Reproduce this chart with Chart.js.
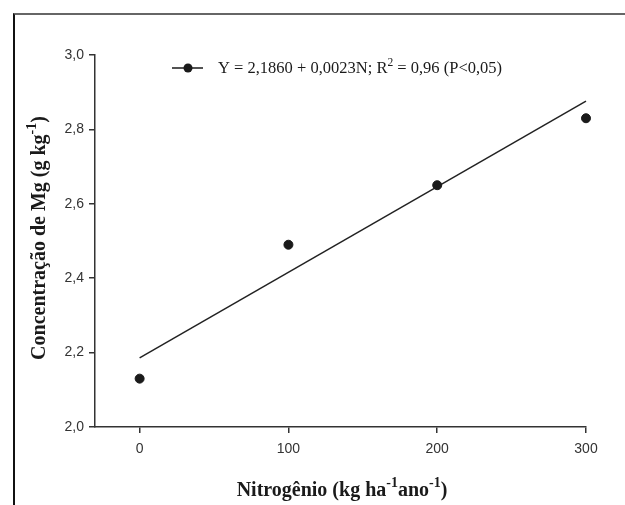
<!DOCTYPE html>
<html>
<head>
<meta charset="utf-8">
<script src="https://cdn.jsdelivr.net/npm/chart.js@4.4.0/dist/chart.umd.min.js"></script>
<style>
  html, body { margin: 0; padding: 0; background: #fff; }
  #wrap { position: relative; width: 625px; height: 505px; overflow: hidden; }
  #frame {
    position: absolute; left: 13px; top: 13px; right: -5px; bottom: -5px;
    border-top: 2px solid #666; border-left: 2px solid #111;
    pointer-events: none;
  }
  canvas { position: absolute; left: 0; top: 0; }
</style>
</head>
<body>
<div id="wrap">
  <canvas id="chart" width="625" height="505"></canvas>
  <div id="frame"></div>
</div>
<script>
// observed values
const nitrogen = [0, 100, 200, 300];
const magnesium = [2.13, 2.49, 2.65, 2.83];

// fitted line Y = 2,1860 + 0,0023N, read at both ends
const fitX = [0, 300];
const fitY = [2.186, 2.876];

const xTicks = [0, 100, 200, 300];
const yTicks = [2.0, 2.2, 2.4, 2.6, 2.8, 3.0];

const ink = '#1a1a1a';
const serif = '"Liberation Serif", "Times New Roman", serif';
const sans = '"Liberation Sans", Arial, sans-serif';

// draws text pieces, some raised as superscripts
function drawRich(ctx, parts, x, y, size, weight) {
  let cx = x;
  parts.forEach(p => {
    const s = p.sup ? size * 0.7 : size;
    ctx.font = `${weight} ${s}px ${serif}`;
    ctx.fillText(p.t, cx, p.sup ? y - size * 0.36 : y);
    cx += ctx.measureText(p.t).width;
  });
  return cx - x;
}

function richWidth(ctx, parts, size, weight) {
  let w = 0;
  parts.forEach(p => {
    ctx.font = `${weight} ${p.sup ? size * 0.7 : size}px ${serif}`;
    w += ctx.measureText(p.t).width;
  });
  return w;
}

const labelsPlugin = {
  id: 'labelsPlugin',
  afterDraw: (chart) => {
    const { ctx, chartArea: { left, right, top, bottom } } = chart;
    ctx.save();
    ctx.fillStyle = ink;
    ctx.textBaseline = 'middle';
    ctx.textAlign = 'left';

    // legend
    const ly = top + 13;
    ctx.strokeStyle = ink;
    ctx.lineWidth = 1.5;
    ctx.beginPath();
    ctx.moveTo(left + 77, ly);
    ctx.lineTo(left + 108, ly);
    ctx.stroke();
    ctx.beginPath();
    ctx.arc(left + 93, ly, 4.5, 0, Math.PI * 2);
    ctx.fill();
    drawRich(ctx, [
      { t: 'Y = 2,1860 + 0,0023N; R' }, { t: '2', sup: true }, { t: ' = 0,96 (P<0,05)' }
    ], left + 123, ly + 1, 16.5, 'normal');

    // x title
    const xParts = [
      { t: 'Nitrogênio (kg ha' }, { t: '-1', sup: true }, { t: 'ano' }, { t: '-1', sup: true }, { t: ')' }
    ];
    const xw = richWidth(ctx, xParts, 20, 'bold');
    drawRich(ctx, xParts, 342 - xw / 2, 491, 20, 'bold');

    // y title
    const yParts = [
      { t: 'Concentração de Mg (g kg' }, { t: '-1', sup: true }, { t: ')' }
    ];
    const yw = richWidth(ctx, yParts, 20, 'bold');
    ctx.translate(40, 238);
    ctx.rotate(-Math.PI / 2);
    drawRich(ctx, yParts, -yw / 2, 0, 20, 'bold');
    ctx.restore();
  }
};

new Chart(document.getElementById('chart'), {
  type: 'scatter',
  data: {
    datasets: [
      {
        label: 'Mg',
        data: nitrogen.map((n, i) => ({ x: n, y: magnesium[i] })),
        backgroundColor: ink,
        borderColor: ink,
        pointRadius: 4.5,
        showLine: false,
        clip: false
      },
      {
        label: 'ajuste',
        data: fitX.map((n, i) => ({ x: n, y: fitY[i] })),
        borderColor: '#222',
        borderWidth: 1.5,
        pointRadius: 0,
        showLine: true,
        fill: false,
        clip: false
      }
    ]
  },
  options: {
    responsive: false,
    animation: false,
    events: [],
    layout: { padding: { top: 55, right: 39, left: 0, bottom: 0 } },
    plugins: { legend: { display: false }, tooltip: { enabled: false } },
    scales: {
      x: {
        type: 'linear',
        min: -30,
        max: 300,
        afterBuildTicks: (s) => { s.ticks = xTicks.map(v => ({ value: v })); },
        afterFit: (s) => { s.height = 78; },
        grid: { display: true, drawOnChartArea: false, drawTicks: true, tickLength: 6, color: '#333', lineWidth: 1.5 },
        border: { display: true, color: '#333', width: 1.5 },
        ticks: { color: '#333', padding: 8, font: { family: sans, size: 14 } }
      },
      y: {
        min: 2.0,
        max: 3.0,
        afterBuildTicks: (s) => { s.ticks = yTicks.map(v => ({ value: v })); },
        afterFit: (s) => { s.width = 95; },
        grid: { display: true, drawOnChartArea: false, drawTicks: true, tickLength: 6, color: '#333', lineWidth: 1.5 },
        border: { display: true, color: '#333', width: 1.5 },
        ticks: {
          color: '#333', padding: 5, font: { family: sans, size: 14 },
          callback: (v) => v.toFixed(1).replace('.', ',')
        }
      }
    }
  },
  plugins: [labelsPlugin]
});
</script>
</body>
</html>
